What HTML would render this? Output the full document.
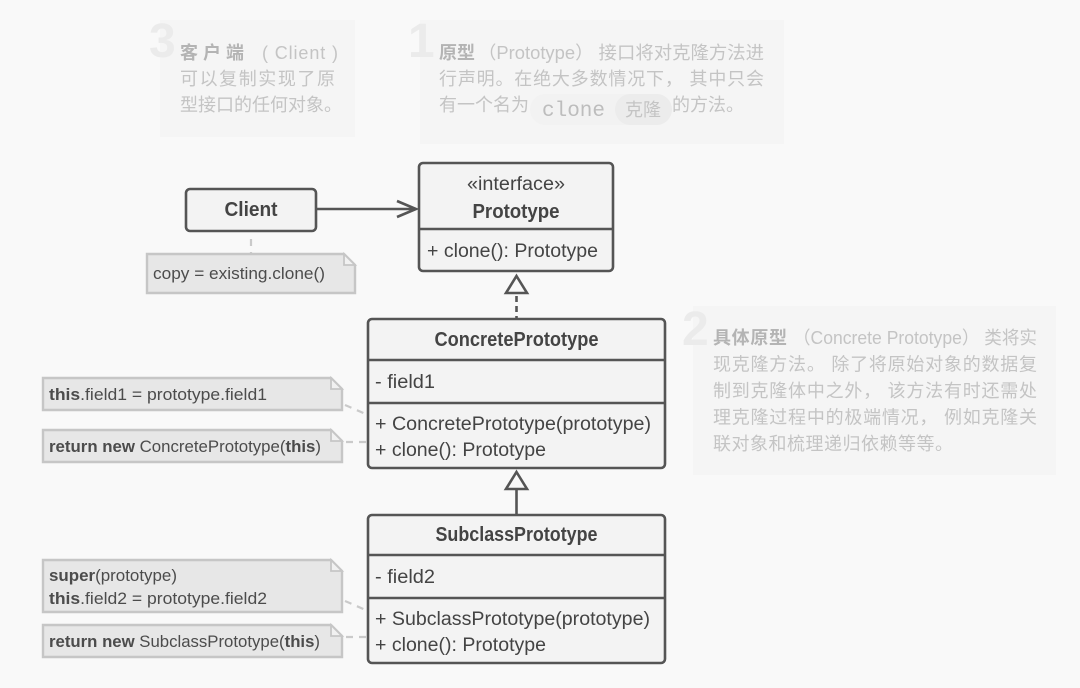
<!DOCTYPE html>
<html><head><meta charset="utf-8"><style>
html,body{margin:0;padding:0;background:#f9f9f9}
svg{display:block}
text{font-family:"Liberation Sans","Noto Sans CJK SC",sans-serif}
.b{fill:#f3f3f3;stroke:#555;stroke-width:2.600}
.l{stroke:#555;stroke-width:2.600;fill:none}
.t{font-size:19px;fill:#444}
.h{font-size:20px;font-weight:700;fill:#444;text-anchor:middle}
.n{fill:#e7e7e7;stroke:#c6c6c6;stroke-width:2.400}
.f{fill:#f1f1f1;stroke:#c6c6c6;stroke-width:1.800}
.s{font-size:16.5px;fill:#4c4c4c}
.d{stroke:#cacaca;stroke-width:2.200;stroke-dasharray:7 6;fill:none}
.p{font-size:18px;fill:#c4c4c4}
.g{fill:#b4b4b4;font-weight:700}
.num{font-size:48px;font-weight:700;fill:#ebebeb}
</style></head><body>
<svg width="1080" height="688" viewBox="0 0 1080 688" xmlns="http://www.w3.org/2000/svg">
<rect width="1080" height="688" fill="#f9f9f9"/>

<rect x="160" y="20" width="195" height="117" fill="#f5f5f5"/>
<rect x="420" y="20" width="364" height="124" fill="#f5f5f5"/>
<rect x="693" y="306" width="363" height="169" fill="#f5f5f5"/>

<text class="num" x="149" y="57">3</text>
<text class="num" x="408" y="57">1</text>
<text class="num" x="682" y="345">2</text>

<text class="p g" x="180" y="59" textLength="64">客 户 端</text>
<text class="p" x="262" y="59" textLength="76" lengthAdjust="spacing">( Client )</text>
<text class="p" x="180" y="85" textLength="155">可以复制实现了原</text>
<text class="p" x="180" y="111" textLength="162">型接口的任何对象。</text>

<text class="p g" x="439" y="59" textLength="36">原型</text>
<text class="p" x="478" y="59" textLength="286" lengthAdjust="spacingAndGlyphs">（Prototype） 接口将对克隆方法进</text>
<text class="p" x="439" y="85" textLength="325">行声明。在绝大多数情况下， 其中只会</text>
<text class="p" x="439" y="111">有一个名为</text>
<rect x="530" y="94" width="142" height="31" rx="15.500" fill="#f2f2f2"/>
<rect x="615" y="94" width="57" height="31" rx="15.500" fill="#ececec"/>
<text x="542" y="116" font-size="21" fill="#bdbdbd" style="font-family:'Liberation Mono',monospace">clone</text>
<text class="p" x="625" y="116">克隆</text>
<text class="p" x="672" y="111" textLength="72">的方法。</text>

<text class="p g" x="713" y="344" textLength="74">具体原型</text>
<text class="p" x="793" y="344" textLength="244" lengthAdjust="spacingAndGlyphs">（Concrete Prototype） 类将实</text>
<text class="p" x="713" y="370.500" textLength="324">现克隆方法。 除了将原始对象的数据复</text>
<text class="p" x="713" y="397" textLength="324">制到克隆体中之外， 该方法有时还需处</text>
<text class="p" x="713" y="423.500" textLength="324">理克隆过程中的极端情况， 例如克隆关</text>
<text class="p" x="713" y="450" textLength="240">联对象和梳理递归依赖等等。</text>

<!-- connectors -->
<path class="l" d="M316 209H416M397 201L416 209L397 217"/>
<path d="M516.500 276L527 293H506Z" fill="#f9f9f9" stroke="#555" stroke-width="2.600"/>
<path d="M516.500 296V319" stroke="#555" stroke-width="2.600" stroke-dasharray="6 4" fill="none"/>
<path d="M516.500 472L527 489H506Z" fill="#f9f9f9" stroke="#555" stroke-width="2.600"/>
<path class="l" d="M516.500 489V515"/>

<path class="d" d="M251 239V254"/>
<path class="d" d="M345 405L368 415"/>
<path class="d" d="M346 442H368"/>
<path class="d" d="M345 601L368 611"/>
<path class="d" d="M346 637H368"/>

<!-- Client -->
<rect class="b" x="186" y="189" width="130" height="42" rx="4"/>
<text class="h" x="251" y="216" textLength="53" lengthAdjust="spacingAndGlyphs">Client</text>

<!-- Prototype -->
<rect class="b" x="419" y="163" width="194" height="108" rx="4"/>
<path class="l" d="M419 229H613"/>
<text x="516" y="190" text-anchor="middle" font-size="19" fill="#444" textLength="98" lengthAdjust="spacingAndGlyphs">«interface»</text>
<text class="h" x="516" y="218" textLength="87" lengthAdjust="spacingAndGlyphs">Prototype</text>
<text class="t" x="427" y="257" textLength="171" lengthAdjust="spacingAndGlyphs">+ clone(): Prototype</text>

<!-- ConcretePrototype -->
<rect class="b" x="368" y="319" width="297" height="149" rx="4"/>
<path class="l" d="M368 360H665M368 403H665"/>
<text class="h" x="516.500" y="346" textLength="164" lengthAdjust="spacingAndGlyphs">ConcretePrototype</text>
<text class="t" x="375" y="388" textLength="60" lengthAdjust="spacingAndGlyphs">- field1</text>
<text class="t" x="375" y="430" textLength="276" lengthAdjust="spacingAndGlyphs">+ ConcretePrototype(prototype)</text>
<text class="t" x="375" y="456" textLength="171" lengthAdjust="spacingAndGlyphs">+ clone(): Prototype</text>

<!-- SubclassPrototype -->
<rect class="b" x="368" y="515" width="297" height="148" rx="4"/>
<path class="l" d="M368 555H665M368 598H665"/>
<text class="h" x="516.500" y="541" textLength="162" lengthAdjust="spacingAndGlyphs">SubclassPrototype</text>
<text class="t" x="375" y="583" textLength="60" lengthAdjust="spacingAndGlyphs">- field2</text>
<text class="t" x="375" y="625" textLength="275" lengthAdjust="spacingAndGlyphs">+ SubclassPrototype(prototype)</text>
<text class="t" x="375" y="651" textLength="171" lengthAdjust="spacingAndGlyphs">+ clone(): Prototype</text>

<!-- Notes -->
<path class="n" d="M147 254H344L355 265V293H147Z"/>
<path class="f" d="M344 254V265H355Z"/>
<text class="s" x="153" y="279" textLength="172" lengthAdjust="spacingAndGlyphs">copy = existing.clone()</text>

<path class="n" d="M43 378H331L342 389V410H43Z"/>
<path class="f" d="M331 378V389H342Z"/>
<text class="s" x="49" y="400" textLength="218" lengthAdjust="spacingAndGlyphs"><tspan font-weight="700">this</tspan>.field1 = prototype.field1</text>

<path class="n" d="M43 430H331L342 441V462H43Z"/>
<path class="f" d="M331 430V441H342Z"/>
<text class="s" x="49" y="452" textLength="272" lengthAdjust="spacingAndGlyphs"><tspan font-weight="700">return new</tspan> ConcretePrototype(<tspan font-weight="700">this</tspan>)</text>

<path class="n" d="M43 560H331L342 571V612H43Z"/>
<path class="f" d="M331 560V571H342Z"/>
<text class="s" x="49" y="581" textLength="128" lengthAdjust="spacingAndGlyphs"><tspan font-weight="700">super</tspan>(prototype)</text>
<text class="s" x="49" y="604" textLength="218" lengthAdjust="spacingAndGlyphs"><tspan font-weight="700">this</tspan>.field2 = prototype.field2</text>

<path class="n" d="M43 625H331L342 636V657H43Z"/>
<path class="f" d="M331 625V636H342Z"/>
<text class="s" x="49" y="647" textLength="271" lengthAdjust="spacingAndGlyphs"><tspan font-weight="700">return new</tspan> SubclassPrototype(<tspan font-weight="700">this</tspan>)</text>
</svg>
</body></html>
